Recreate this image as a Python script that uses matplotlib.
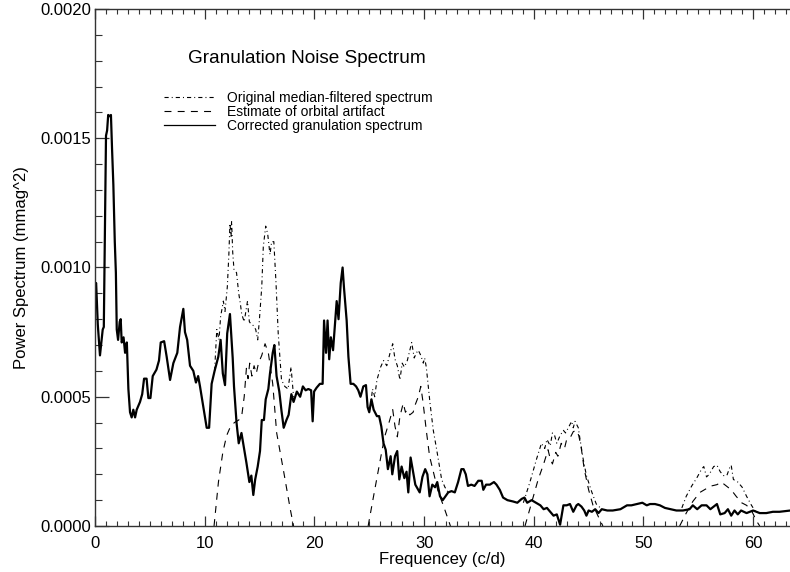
import matplotlib
matplotlib.use("Agg")
import matplotlib.pyplot as plt
from matplotlib.ticker import MultipleLocator, FormatStrFormatter
import numpy as np

plt.rcParams['font.family'] = ['Liberation Sans', 'DejaVu Sans']
plt.rcParams['lines.scale_dashes'] = False

# power values are in units of 1e-4 mmag^2
corr_x = [0.0, 0.1, 0.25, 0.45, 0.6, 0.7, 0.8, 0.88, 0.95, 1.0, 1.1, 1.2, 1.35, 1.45, 1.55,
          1.67, 1.8, 1.9, 1.98, 2.1, 2.25, 2.34, 2.43, 2.6, 2.74, 2.9, 3.04, 3.19, 3.34, 3.49,
          3.65, 3.8, 4.1, 4.3, 4.47, 4.7, 4.86, 5.05, 5.26, 5.6, 5.83, 5.99, 6.3, 6.53, 6.84,
          7.14, 7.5, 7.75, 8.05, 8.2, 8.4, 8.66, 8.96, 9.2, 9.4, 9.57, 9.87, 10.18, 10.4, 10.63,
          10.9, 11.24, 11.45, 11.65, 11.85, 12.05, 12.3, 12.55, 12.67, 12.9, 13.1, 13.35, 13.6,
          13.8, 14.07, 14.25, 14.43, 14.6, 14.83, 15.04, 15.2, 15.4, 15.56, 15.8, 15.95, 16.2,
          16.35, 16.55, 16.8, 17.0, 17.2, 17.45, 17.65, 17.9, 18.1, 18.4, 18.7, 18.95, 19.2,
          19.45, 19.7, 19.84, 19.97, 20.2, 20.5, 20.75, 20.88, 21.06, 21.2, 21.35, 21.5, 21.7,
          21.9, 22.03, 22.2, 22.4, 22.57, 22.7, 22.94, 23.1, 23.3, 23.55, 23.8, 24.0, 24.2,
          24.46, 24.7, 24.85, 25.0, 25.2, 25.4, 25.7, 25.9, 26.1, 26.3, 26.5, 26.7, 26.95, 27.1,
          27.35, 27.55, 27.74, 27.95, 28.2, 28.4, 28.56, 28.77, 28.95, 29.2, 29.4, 29.6, 29.85,
          30.1, 30.3, 30.5, 30.75, 31.0, 31.2, 31.45, 31.7, 31.95, 32.2, 32.5, 32.8, 33.1, 33.4,
          33.6, 33.8, 34.0, 34.3, 34.6, 34.94, 35.25, 35.4, 35.65, 36.0, 36.37, 36.6, 36.9,
          37.2, 37.6, 38.1, 38.5, 38.9, 39.15, 39.4, 39.8, 40.2, 40.6, 40.9, 41.2, 41.5, 41.8,
          42.1, 42.4, 42.7, 43.0, 43.3, 43.6, 43.9, 44.06, 44.35, 44.6, 44.8, 45.0, 45.3, 45.6,
          45.9, 46.2, 46.7, 47.2, 47.9, 48.5, 48.9, 49.4, 49.9, 50.3, 50.6, 51.05, 51.5, 51.96,
          52.5, 53.0, 53.6, 54.2, 54.5, 54.9, 55.3, 55.75, 56.1, 56.4, 56.7, 57.0, 57.4, 57.7,
          58.0, 58.3, 58.6, 58.9, 59.4, 60.0, 60.6, 61.2, 61.8, 62.4, 63.4]
corr_y = [9.3, 9.4, 7.8, 6.6, 7.2, 7.6, 7.7, 10.8, 13.5, 15.1, 15.3, 15.9, 15.85, 15.9, 14.6,
          13.2, 11.0, 9.8, 7.6, 7.2, 7.9, 8.0, 7.1, 7.3, 6.7, 7.1, 5.3, 4.4, 4.2, 4.5,
          4.2, 4.5, 4.8, 5.1, 5.7, 5.7, 4.95, 4.95, 5.8, 6.05, 6.4, 7.1, 7.15, 6.55, 5.65,
          6.3, 6.7, 7.7, 8.4, 7.5, 7.2, 6.2, 6.0, 5.55, 5.8, 5.4, 4.6, 3.8, 3.8, 5.5,
          6.0, 6.55, 7.2, 5.9, 5.45, 7.45, 8.2, 6.5, 5.4, 4.0, 3.2, 3.6, 2.95,
          2.45, 1.7, 1.95, 1.2, 1.8, 2.3, 2.9, 4.1, 4.1, 4.9, 5.3, 5.9, 6.7,
          7.0, 5.8, 5.2, 4.45, 3.8, 4.1, 4.3, 5.1, 4.8, 5.2, 5.0, 5.4, 5.25,
          5.3, 5.25, 4.05, 5.2, 5.35, 5.5, 5.5, 7.95, 6.7, 7.95, 6.45, 7.3, 6.8,
          7.95, 8.7, 8.0, 9.4, 10.0, 9.2, 7.95, 6.55, 5.5, 5.5, 5.4, 5.25, 5.0,
          5.4, 5.45, 4.6, 4.4, 4.9, 4.5, 4.25, 4.25, 3.85, 3.2, 2.95, 2.2, 2.7, 2.0,
          2.7, 2.9, 1.8, 2.3, 1.85, 2.1, 1.3, 2.65, 2.2, 1.6, 1.45, 1.3, 1.9,
          2.2, 2.0, 1.15, 1.6, 1.5, 1.7, 1.15, 1.0, 1.15, 1.3, 1.35, 1.3, 1.7, 2.2,
          2.2, 2.0, 1.55, 1.6, 1.55, 1.75, 1.75, 1.4, 1.6, 1.6, 1.7, 1.6, 1.4,
          1.1, 1.0, 0.95, 0.9, 1.05, 1.1, 0.9, 1.0, 0.9, 0.8, 0.65, 0.7, 0.55, 0.4,
          0.45, 0.05, 0.8, 0.8, 0.85, 0.55, 0.8, 0.85, 0.75, 0.6, 0.4, 0.6, 0.55, 0.65,
          0.5, 0.65, 0.6, 0.6, 0.65, 0.8, 0.8, 0.85, 0.9, 0.8, 0.85, 0.85, 0.8, 0.7,
          0.65, 0.6, 0.6, 0.65, 0.8, 0.65, 0.8, 0.8, 0.65, 0.75, 0.85, 0.45, 0.5, 0.65,
          0.4, 0.6, 0.45, 0.6, 0.5, 0.6, 0.5, 0.5, 0.55, 0.55, 0.6]

# original spectrum where it departs from the corrected one (four orbital bands)
orig_x = [
    [10.9, 11.1, 11.3, 11.45, 11.7, 11.85, 12.06, 12.2, 12.3, 12.4, 12.45, 12.55, 12.67, 12.9,
     13.1, 13.25, 13.37, 13.6, 13.75, 13.9, 14.07, 14.25, 14.45, 14.65, 14.83, 14.98, 15.2,
     15.34, 15.56, 15.74, 15.95, 16.1, 16.3, 16.5, 16.7, 17.0, 17.3, 17.6, 17.87, 18.1],
    [25.1, 25.3, 25.5, 25.7, 26.04, 26.3, 26.6, 26.9, 27.14, 27.35, 27.56, 27.8, 28.0, 28.2,
     28.47, 28.7, 28.87, 29.1, 29.3, 29.47, 29.7, 29.93, 30.05, 30.2, 30.54, 30.84, 31.15,
     31.6, 31.9, 32.2],
    [39.05, 39.65, 40.26, 40.7, 41.0, 41.2, 41.5, 41.7, 41.9, 42.1, 42.4, 42.7, 42.9, 43.15,
     43.45, 43.6, 43.76, 44.06, 44.2, 44.5, 44.8, 45.3, 45.7, 46.2],
    [53.5, 53.9, 54.4, 54.85, 55.3, 55.5, 55.75, 56.0, 56.4, 56.7, 57.0, 57.3, 57.6, 57.9,
     58.0, 58.2, 58.6, 59.0, 59.4, 59.85, 60.3],
]
orig_y = [
    [6.0, 7.6, 7.2, 8.1, 8.7, 8.3, 9.25, 10.5, 11.7, 11.2, 11.8, 10.6, 9.9, 9.8,
     9.0, 8.6, 8.2, 7.9, 8.3, 8.7, 7.9, 7.8, 7.75, 7.6, 7.2, 7.95, 9.25,
     10.8, 11.6, 11.3, 10.5, 11.0, 11.0, 9.4, 7.45, 5.65, 5.4, 5.3, 6.15, 5.0],
    [4.6, 5.3, 5.0, 5.65, 6.15, 6.4, 6.2, 6.7, 7.05, 6.45, 6.2, 5.65, 6.3, 6.15,
     6.4, 6.8, 7.1, 6.5, 6.7, 6.8, 6.6, 6.3, 6.5, 6.15, 4.75, 3.7, 2.95,
     1.8, 1.5, 1.3],
    [0.9, 1.7, 2.6, 3.2, 3.0, 3.35, 3.1, 3.6, 3.5, 3.2, 3.5, 3.7, 3.6, 3.8,
     4.05, 3.8, 4.05, 3.8, 3.4, 2.6, 1.95, 1.3, 0.85, 0.65],
    [0.7, 1.15, 1.55, 1.85, 2.2, 2.3, 1.9, 2.0, 2.3, 2.35, 2.1, 1.95, 1.95, 2.3,
     2.35, 1.8, 1.7, 1.5, 1.15, 0.8, 0.5],
]

# estimated orbital artifact in the same bands
orb_x = [
    [10.85, 11.25, 11.65, 12.0, 12.3, 12.7, 13.1, 13.37, 13.6, 13.8, 13.95, 14.1, 14.3, 14.5,
     14.7, 14.9, 15.2, 15.5, 15.8, 16.2, 16.56, 17.2, 17.8, 18.1],
    [24.9, 25.07, 25.5, 26.0, 26.4, 26.8, 27.14, 27.35, 27.56, 27.8, 28.1, 28.3, 28.45, 28.7,
     29.0, 29.2, 29.47, 29.7, 29.9, 30.2, 30.5, 30.9, 31.3, 31.75, 32.2, 32.4],
    [39.2, 39.8, 40.4, 40.9, 41.3, 41.5, 41.7, 42.0, 42.2, 42.5, 42.8, 43.0, 43.3, 43.6,
     43.9, 44.1, 44.3, 44.6, 45.0, 45.4, 45.9, 46.3],
    [53.3, 53.9, 54.5, 55.15, 55.75, 56.2, 56.7, 57.1, 57.55, 58.0, 58.45, 58.95, 59.4, 59.85,
     60.3, 60.6],
]
orb_y = [
    [0.0, 1.7, 2.85, 3.5, 3.8, 4.0, 4.1, 4.25, 5.0, 6.1, 5.7, 6.3, 5.8, 6.2,
     5.9, 6.3, 6.6, 7.05, 6.7, 5.5, 3.6, 2.1, 0.65, 0.0],
    [0.0, 0.4, 1.4, 2.55, 3.45, 4.0, 4.5, 3.85, 3.45, 4.25, 4.75, 4.4, 4.5, 4.3,
     4.4, 4.7, 5.0, 5.4, 4.8, 3.7, 2.7, 2.0, 1.3, 0.8, 0.25, 0.0],
    [0.0, 0.9, 1.8, 2.4, 2.95, 2.6, 2.4, 2.85, 2.7, 3.2, 3.0, 3.35, 3.4, 3.65,
     3.7, 3.5, 3.1, 2.2, 1.4, 0.8, 0.35, 0.0],
    [0.0, 0.5, 0.95, 1.3, 1.45, 1.55, 1.6, 1.7, 1.55, 1.4, 1.15, 0.9, 0.8, 0.6,
     0.2, 0.0],
]

unit = 1e-4
dashdot = (0, (3.0, 2.2, 0.7, 2.2))
dashed = (0, (5.0, 4.5))

fig = plt.figure(figsize=(7.9, 5.72), dpi=100)
ax = fig.add_axes([0.1203, 0.0804, 1.0 - 0.1203, 0.9039])

for i in range(len(orig_x)):
    ax.plot(orig_x[i], np.array(orig_y[i]) * unit, color='black', lw=0.8,
            linestyle=dashdot, label='Original median-filtered spectrum' if i == 0 else None)
for i in range(len(orb_x)):
    ax.plot(orb_x[i], np.array(orb_y[i]) * unit, color='black', lw=0.8,
            linestyle=dashed, label='Estimate of orbital artifact' if i == 0 else None)
ax.plot(corr_x, np.array(corr_y) * unit, color='black', lw=1.6,
        label='Corrected granulation spectrum')

ax.set_xlim(0, 63.36)
ax.set_ylim(0, 0.002)

ax.xaxis.set_major_locator(MultipleLocator(10))
ax.xaxis.set_minor_locator(MultipleLocator(1))
ax.yaxis.set_major_locator(MultipleLocator(0.0005))
ax.yaxis.set_minor_locator(MultipleLocator(0.0001))
ax.yaxis.set_major_formatter(FormatStrFormatter('%.4f'))

ax.spines['right'].set_visible(False)
for s in ['left', 'bottom', 'top']:
    ax.spines[s].set_linewidth(1.0)
    ax.spines[s].set_color('#333333')
ax.tick_params(axis='x', which='major', direction='in', length=7.5, width=0.9,
               top=True, labelsize=12, pad=7, color='#333333')
ax.tick_params(axis='x', which='minor', direction='in', length=3.5, width=0.8,
               top=True, color='#333333')
ax.tick_params(axis='y', which='major', direction='in', length=10, width=0.9,
               right=False, labelsize=12, pad=3, color='#333333')
ax.tick_params(axis='y', which='minor', direction='in', length=5, width=0.8,
               right=False, color='#333333')

ax.set_xlabel('Frequencey (c/d)', fontsize=12, labelpad=1)
ax.set_ylabel('Power Spectrum (mmag^2)', fontsize=12, labelpad=8)

ax.text(8.48, 0.001792, 'Granulation Noise Spectrum', fontsize=13.7, ha='left', va='baseline')

leg = ax.legend(loc='upper left', bbox_to_anchor=(0.0993, 0.842), frameon=False,
                fontsize=10, handlelength=3.7, handletextpad=0.8, labelspacing=0.0,
                borderpad=0, borderaxespad=0)
# thin key line for the corrected spectrum
leg.get_lines()[2].set_linewidth(0.9)

fig.savefig('out.png', dpi=100)
